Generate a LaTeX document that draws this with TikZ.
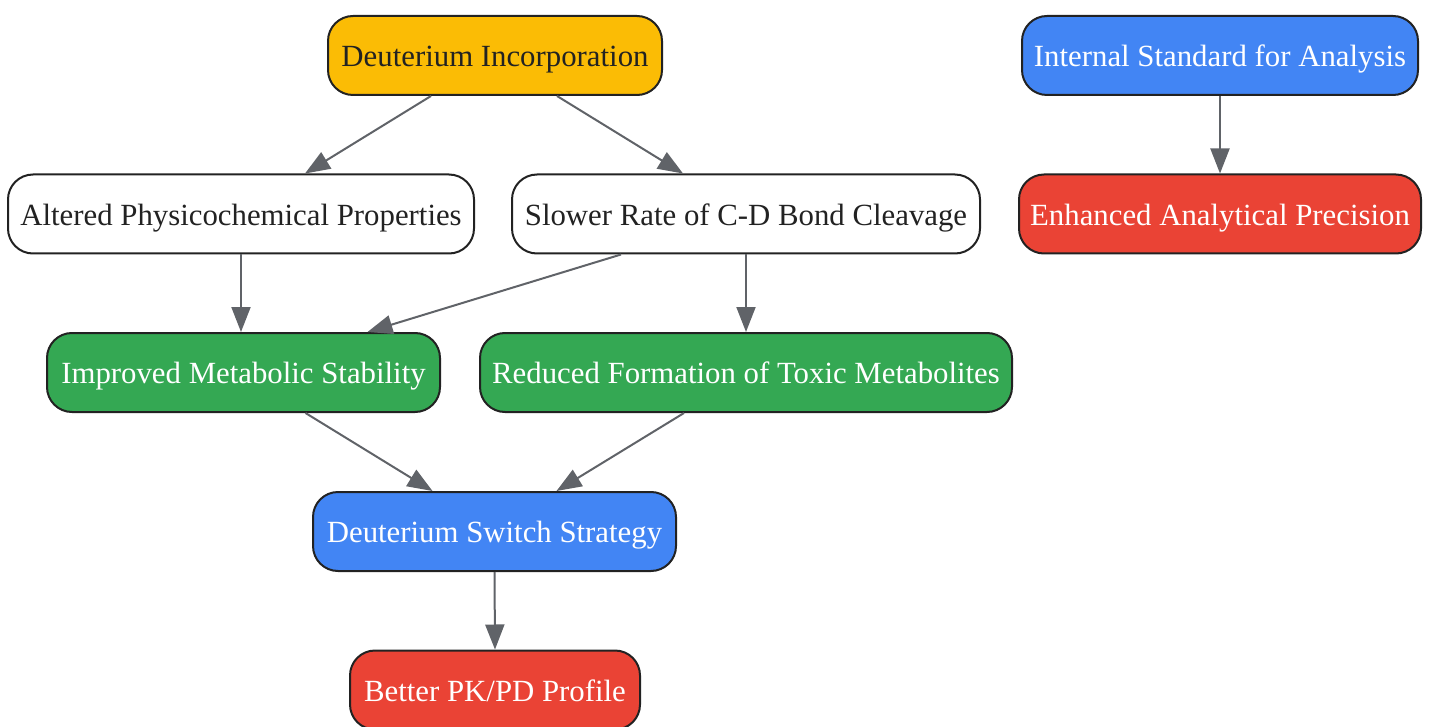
\documentclass[tikz,border=0pt]{standalone}
\usepackage{fontspec}
\setmainfont{Liberation Serif}
\usetikzlibrary{arrows.meta}
\definecolor{cyellow}{HTML}{FBBC05}
\definecolor{cblue}{HTML}{4285F4}
\definecolor{cred}{HTML}{EA4335}
\definecolor{cgreen}{HTML}{34A853}
\definecolor{cborder}{HTML}{222222}
\definecolor{cedge}{HTML}{606368}
\tikzset{
  box/.style={draw=cborder, line width=1pt, rounded corners=12.5pt, minimum height=39.5pt,
    inner xsep=4pt, text height=11.2pt, text depth=0pt,
    font=\fontsize{15.4}{18}\selectfont, text=cborder},
  wbox/.style={box, fill=white},
  ybox/.style={box, fill=cyellow},
  bbox/.style={box, fill=cblue, text=white},
  rbox/.style={box, fill=cred, text=white},
  gbox/.style={box, fill=cgreen, text=white},
  link/.style={draw=cedge, line width=1pt, -{Triangle[length=12.5pt,width=9.5pt]}}
}
\begin{document}
\begin{tikzpicture}[x=0.5pt,y=-0.5pt]
\useasboundingbox (0,0) rectangle (1429,727);
\node[ybox, minimum width=167pt] (di) at (495,55.5) {Deuterium Incorporation};
\node[bbox, minimum width=198pt] (is) at (1220,55.5) {Internal Standard for Analysis};
\node[wbox, minimum width=233pt] (alt) at (241,214) {Altered Physicochemical Properties};
\node[wbox, minimum width=234pt] (slo) at (746,214) {Slower Rate of C-D Bond Cleavage};
\node[rbox, minimum width=201pt] (enh) at (1220,214) {Enhanced Analytical Precision};
\node[gbox, minimum width=196.5pt] (imp) at (243.5,372.5) {Improved Metabolic Stability};
\node[gbox, minimum width=266pt] (red) at (746,372.5) {Reduced Formation of Toxic Metabolites};
\node[bbox, minimum width=181.5pt] (dss) at (494.5,531.5) {Deuterium Switch Strategy};
\node[rbox, minimum width=145pt] (bpk) at (495,690) {Better PK/PD Profile};

\draw[link] ([xshift=-32pt]di.south) -- ([xshift=32pt]alt.north);
\draw[link] ([xshift=31pt]di.south) -- ([xshift=-31.5pt]slo.north);
\draw[link] (alt.south) -- (alt.south |- imp.north);
\draw[link] ([xshift=-62.5pt]slo.south) -- ([xshift=62pt]imp.north);
\draw[link] (slo.south) -- (red.north);
\draw[link] ([xshift=31pt]imp.south) -- ([xshift=-31pt]dss.north);
\draw[link] ([xshift=-31pt]red.south) -- ([xshift=31pt]dss.north);
\draw[link] (dss.south) -- (bpk.north);
\draw[link] (is.south) -- (enh.north);
\end{tikzpicture}
\end{document}
